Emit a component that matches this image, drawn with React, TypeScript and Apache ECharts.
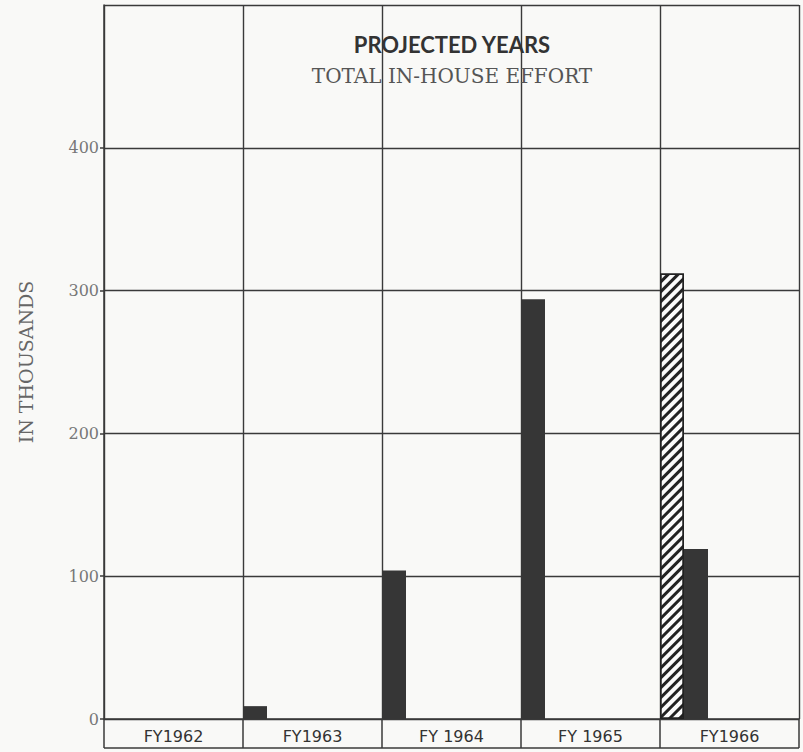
import React, { useEffect, useRef } from "react";
import * as echarts from "echarts";

const categories = ["FY1962", "FY1963", "FY 1964", "FY 1965", "FY1966"];
const solidFirst = [0, 9, 104, 294, 0];
const hatchedValues = [null, null, null, null, 312];
const solidSecond = [null, null, null, null, 119];
const spacer = [null, null, null, null, null];
const yMin = 0;
const yMax = 500;
const yInterval = 100;

const LINE = "#3a3a3a";

export default function App() {
  const ref = useRef<HTMLDivElement>(null);
  useEffect(() => {
    if (!ref.current) return;
    const chart = echarts.init(ref.current, undefined, { renderer: "svg" });
    const option: any = {
      animation: false,
      backgroundColor: "#f9f9f7",
      title: {
        text: "PROJECTED YEARS",
        subtext: "TOTAL IN-HOUSE EFFORT",
        left: 452,
        textAlign: "center",
        top: 33,
        padding: 0,
        itemGap: 11,
        textStyle: { fontFamily: "Lato", fontWeight: "bold", fontSize: 22, color: "#333" },
        subtextStyle: { fontFamily: "DejaVu Serif", fontSize: 20, color: "#555" },
      },
      grid: { left: 104, right: 4, top: 5, bottom: 33, containLabel: false },
      xAxis: {
        type: "category",
        data: categories,
        boundaryGap: true,
        axisLine: { show: true, lineStyle: { color: LINE, width: 1.5 } },
        axisTick: { show: true, length: 29, lineStyle: { color: LINE, width: 1.5 } },
        splitLine: { show: true, lineStyle: { color: LINE, width: 1.4 } },
        axisLabel: { margin: 9, fontFamily: "DejaVu Sans", fontSize: 16, color: "#333" },
      },
      yAxis: {
        type: "value",
        min: yMin,
        max: yMax,
        interval: yInterval,
        name: "IN THOUSANDS",
        nameLocation: "middle",
        nameGap: 69,
        nameRotate: 90,
        nameTextStyle: { fontFamily: "DejaVu Serif", fontSize: 19, color: "#666" },
        axisLine: { show: true, lineStyle: { color: LINE, width: 1.5 } },
        axisTick: { show: true, length: 4, lineStyle: { color: LINE, width: 1.5 } },
        splitLine: { show: true, lineStyle: { color: LINE, width: 1.4 } },
        axisLabel: {
          showMaxLabel: false,
          margin: 5,
          fontFamily: "DejaVu Serif",
          fontSize: 16,
          color: "#777",
        },
      },
      graphic: [
        {
          type: "line",
          shape: { x1: 104, y1: 748, x2: 799, y2: 748 },
          style: { stroke: LINE, lineWidth: 1.5 },
        },
      ],
      series: [
        {
          name: "solid",
          type: "bar",
          stack: "a",
          data: solidFirst,
          barWidth: 24,
          barGap: "0%",
          itemStyle: { color: "#363636" },
        },
        {
          name: "hatched",
          type: "bar",
          stack: "a",
          data: hatchedValues,
          barWidth: 24,
          barGap: "0%",
          itemStyle: {
            color: "#fbfbfb",
            borderColor: "#222",
            borderWidth: 1.5,
            decal: {
              symbol: "rect",
              symbolSize: 1,
              dashArrayX: [1, 0],
              dashArrayY: [3, 4],
              rotation: -Math.PI / 4,
              color: "#222",
            },
          },
        },
        {
          name: "solid2",
          type: "bar",
          data: solidSecond,
          barWidth: 24,
          barGap: "0%",
          itemStyle: { color: "#363636" },
        },
        {
          name: "spacer",
          type: "bar",
          data: spacer,
          barWidth: 91,
          barGap: "0%",
          silent: true,
          itemStyle: { color: "transparent" },
        },
      ],
    };
    chart.setOption(option);
    return () => chart.dispose();
  }, []);
  return (
    <div
      ref={ref}
      style={{ position: "absolute", left: 0, top: 0, width: 803, height: 752 }}
    />
  );
}
